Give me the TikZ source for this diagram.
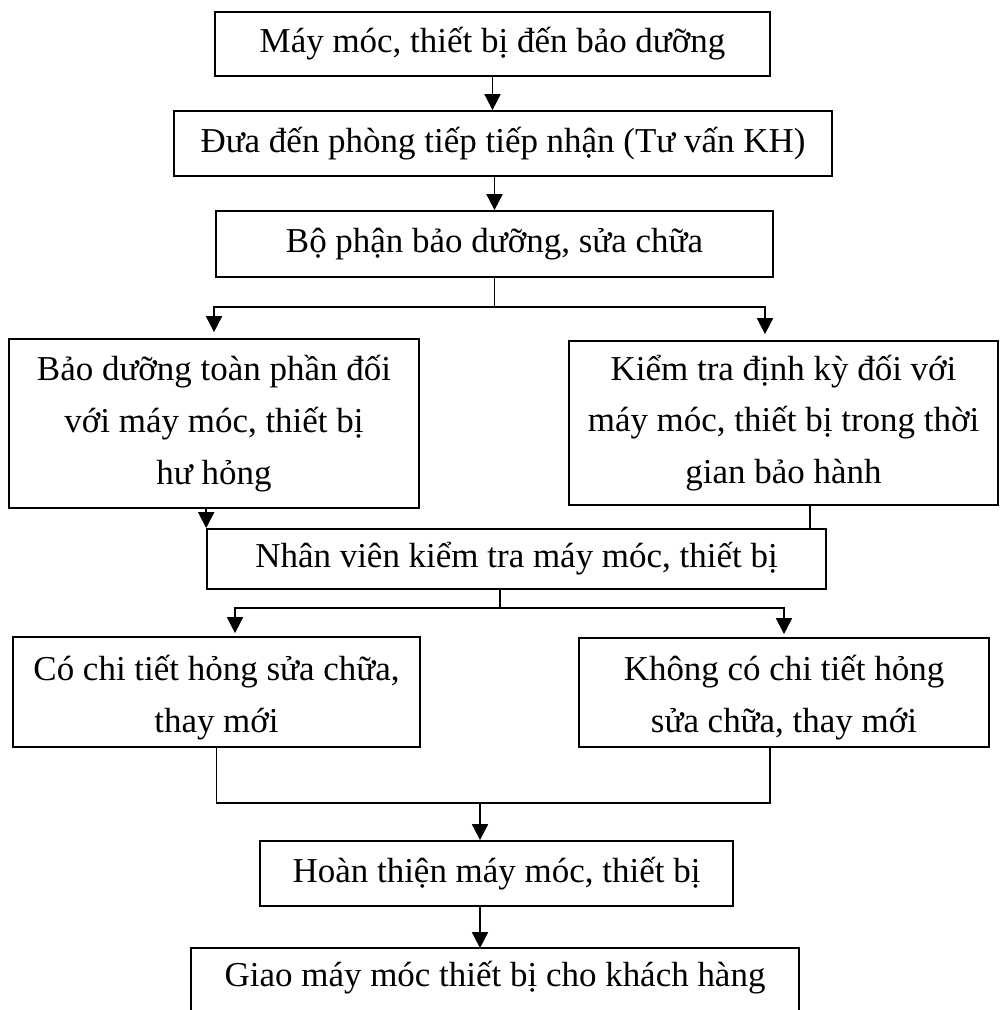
\documentclass[tikz,border=0pt]{standalone}
\usepackage{fontspec}
\setmainfont{Liberation Serif}
\usepackage{tikz}
\usetikzlibrary{arrows.meta}

\begin{document}
\begin{tikzpicture}[x=0.02cm, y=-0.02cm,
    box/.style={draw, line width=1pt, inner sep=0pt, align=center,
        font=\fontsize{19.9}{29.5}\selectfont},
    arr/.style={line width=1pt, -{Triangle[length=0.32cm, width=0.32cm]}},
    link/.style={line width=0.8pt}]
            \useasboundingbox (0, 0) rectangle (1000, 1010);
            \clip (0, 0) rectangle (1000, 1010);
            \node[box, minimum width=11.10cm, minimum height=1.28cm] (mach) at (492.5, 44)
                {Máy móc, thiết bị đến bảo dưỡng};
            \node[box, minimum width=13.16cm, minimum height=1.30cm] (dua) at (503, 143.5)
                {Đưa đến phòng tiếp tiếp nhận (Tư vấn KH)};
            \node[box, minimum width=11.14cm, minimum height=1.32cm] (bophan) at (494.5, 244)
                {Bộ phận bảo dưỡng, sửa chữa};
            \node[box, minimum width=8.20cm, minimum height=3.38cm] (baoduong) at (214, 423.5)
                {Bảo dưỡng toàn phần đối\\với máy móc, thiết bị\\hư hỏng};
            \node[box, minimum width=8.58cm, minimum height=3.28cm] (kiemtra) at (783.5, 423)
                {Kiểm tra định kỳ đối với\\máy móc, thiết bị trong thời\\gian bảo hành};
            \node[box, minimum width=12.38cm, minimum height=1.20cm] (nhanvien) at (516.5, 559)
                {Nhân viên kiểm tra máy móc, thiết bị};
            \node[box, minimum width=8.14cm, minimum height=2.20cm] (cochitiet) at (216.5, 692)
                {\strut Có chi tiết hỏng sửa chữa,\\thay mới};
            \node[box, minimum width=8.20cm, minimum height=2.18cm] (khongco) at (784, 692.5)
                {\strut Không có chi tiết hỏng\\sửa chữa, thay mới};
            \node[box, minimum width=9.46cm, minimum height=1.30cm] (hoanthien) at (496.5, 873.5)
                {Hoàn thiện máy móc, thiết bị};
            \node[box, draw=none, minimum width=12.12cm, minimum height=1.16cm] (giao) at (495, 978)
                {Giao máy móc thiết bị cho khách hàng};
            \draw[line width=1pt] ([yshift=-1cm]giao.south west) |- (giao.north east)
                -- ([yshift=-1cm]giao.south east);
            \coordinate (split1) at (494.5, 307);
            \coordinate (split2) at (500, 608);
            \coordinate (join) at (480, 803);
            \coordinate (kt) at ([xshift=-0.37cm]kiemtra.north);
            \coordinate (kb) at ([xshift=0.53cm]kiemtra.south);
            \coordinate (ct) at ([xshift=0.37cm]cochitiet.north);
            \coordinate (kn) at ([xshift=-0.28cm]khongco.south);
            \draw[arr] (mach.south) -- (mach.south |- dua.north);
            \draw[arr] (dua.south -| bophan.north) -- (bophan.north);
            \draw[link] (bophan.south) -- (split1);
            \draw[arr, shorten >=0.12cm] (split1) -| (baoduong.north);
            \draw[arr, shorten >=0.12cm] (split1) -| (kt);
            \draw[arr] (baoduong.south -| nhanvien.north west) -- (nhanvien.north west);
            \draw[link] (kb) -- (kb |- nhanvien.north);
            \draw[link] (nhanvien.south -| split2) -- (split2);
            \draw[arr, shorten >=0.06cm] (split2) -| (ct);
            \draw[arr, shorten >=0.06cm] (split2) -| (khongco.north);
            \draw[link] (cochitiet.south) |- (join) -| (kn);
            \draw[arr] (join) -- (join |- hoanthien.north);
            \draw[arr] (join |- hoanthien.south) -- (join |- giao.north);
        \end{tikzpicture}
\end{document}
